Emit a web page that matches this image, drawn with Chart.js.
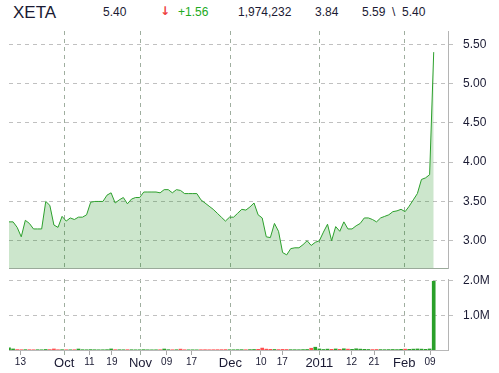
<!DOCTYPE html>
<html><head><meta charset="utf-8">
<script src="https://cdn.jsdelivr.net/npm/chart.js@4.4.0/dist/chart.umd.min.js"></script>
<style>
html,body{margin:0;padding:0;background:#fff;}
#wrap{position:relative;width:499px;height:373px;overflow:hidden;font-family:'Liberation Sans',Arial,sans-serif;color:#1a1a33;}
.h{position:absolute;white-space:pre;line-height:1;font-size:12px;}
canvas{position:absolute;left:0;}
</style></head><body>
<div id="wrap">
<span class="h" style="left:13px;top:4px;font-size:17px;">XETA</span>
<span class="h" style="left:103px;top:6px;">5.40</span>
<span class="h" style="left:160px;top:5px;color:#ee4040;font-family:'DejaVu Sans';font-weight:bold;font-size:12px;">↓</span>
<span class="h" style="left:178px;top:6px;color:#22aa22;">+1.56</span>
<span class="h" style="left:238px;top:6px;">1,974,232</span>
<span class="h" style="left:315px;top:6px;">3.84</span>
<span class="h" style="left:362px;top:6px;">5.59  \  5.40</span>
<canvas id="pc" width="499" height="260" style="top:20px;width:499px;height:260px"></canvas>
<canvas id="vc" width="499" height="103" style="top:270px;width:499px;height:103px"></canvas>
</div>
<script>
// Daily closing prices (trading-day order, Sep 13 2010 .. Feb 9 2011)
const price = [
 3.24,3.24,3.17,3.05,3.26,3.22,3.15,3.15,3.15,3.50,
 3.45,3.20,3.17,3.31,3.25,3.29,3.27,3.30,3.30,3.33,
 3.49,3.50,3.50,3.50,3.58,3.61,3.48,3.52,3.55,3.47,
 3.53,3.55,3.55,3.62,3.62,3.62,3.62,3.61,3.65,3.65,
 3.61,3.65,3.64,3.60,3.60,3.60,3.60,3.52,3.48,3.44,
 3.40,3.35,3.30,3.25,3.30,3.30,3.35,3.40,3.39,3.43,
 3.48,3.33,3.29,3.05,3.04,3.22,3.12,2.85,2.82,2.90,
 2.91,2.91,2.95,3.00,2.94,2.98,3.00,3.11,3.21,3.00,
 3.18,3.12,3.24,3.15,3.15,3.19,3.22,3.29,3.29,3.27,
 3.24,3.29,3.31,3.33,3.37,3.38,3.40,3.37,3.44,3.52,
 3.60,3.78,3.80,3.84,5.40
];
// Daily volume (shares)
const volume = [
 60000,30000,12000,8000,10000,9000,7000,8000,6000,15000,
 12000,30000,8000,9000,7000,6000,8000,28000,9000,7000,
 12000,8000,6000,7000,10000,30000,9000,8000,7000,9000,
 8000,6000,7000,10000,6000,5000,6000,8000,28000,9000,
 7000,8000,25000,7000,5000,6000,5000,8000,9000,7000,
 8000,9000,10000,12000,8000,7000,9000,10000,8000,12000,
 15000,20000,55000,25000,20000,15000,12000,18000,15000,10000,
 9000,8000,12000,15000,50000,80000,30000,15000,25000,20000,
 30000,20000,35000,25000,20000,35000,25000,20000,15000,12000,
 15000,12000,10000,12000,15000,12000,20000,25000,20000,25000,
 30000,25000,20000,30000,1974232
];
// X-axis ticks (position in trading days from Sep 13)
const tickPos    = [2.8, 13.5, 19.7, 25.2, 32.2, 38.6, 44.7, 54.2, 61.7, 66.9, 76.0, 83.9, 89.4, 96.8, 103.1];
const tickLabels = ['13','Oct','11','19','Nov','09','17','Dec','10','17','2011','12','21','Feb','09'];
const tickMajor  = [false,true,false,false,true,false,false,true,false,false,true,false,false,true,false];
const priceTicks = [3.0, 3.5, 4.0, 4.5, 5.0, 5.5];
const volumeTicks = [1000000, 2000000];
const volumeTickLabels = ['1.0M', '2.0M'];

Chart.defaults.font.family = "'Liberation Sans', Arial, sans-serif";
Chart.defaults.color = '#1a1a33';

const xMax = 107.5;
const monthGrid = '#9fae9f';
const hGrid = '#c0c0c0';
const upColor = '#2aa02a', downColor = '#ff5050';

function fitY(s) { s.width = 51; s.paddingTop = 0; s.paddingBottom = 0; }

new Chart(document.getElementById('pc'), {
  type: 'line',
  data: { datasets: [{
    data: price.map((v, i) => ({ x: i, y: v })),
    borderColor: '#2ca02c', borderWidth: 1,
    backgroundColor: 'rgba(0,128,0,0.2)', fill: 'start',
    pointRadius: 0, tension: 0
  }]},
  options: {
    responsive: false, devicePixelRatio: 1, animation: false,
    layout: { padding: { left: 9, top: 11, right: 0, bottom: 0 } },
    plugins: { legend: { display: false }, tooltip: { enabled: false } },
    scales: {
      x: {
        type: 'linear', min: 0, max: xMax, offset: false,
        afterBuildTicks: s => { s.ticks = tickPos.filter((p, i) => tickMajor[i]).map(v => ({ value: v })); },
        afterFit: s => { s.height = 12; s.paddingLeft = 0; s.paddingRight = 0; },
        ticks: { display: false },
        grid: { color: monthGrid, drawTicks: false, lineWidth: 1 },
        border: { color: '#9aaa9a', dash: [4, 4] }
      },
      y: {
        position: 'right', min: 2.653, max: 5.669,
        afterBuildTicks: s => { s.ticks = priceTicks.map(v => ({ value: v })); },
        afterFit: fitY,
        ticks: { padding: 10, font: { size: 12 }, color: '#1a1a33', callback: v => Number(v).toFixed(2) },
        grid: { color: hGrid, tickLength: 5, tickColor: hGrid, tickBorderDash: [4, 4] },
        border: { color: '#b4b4b4', dash: [4, 4] }
      }
    }
  }
});

const barColors = price.map((v, i) => (i === 0 || v >= price[i - 1]) ? upColor : downColor);

new Chart(document.getElementById('vc'), {
  type: 'bar',
  data: { datasets: [{
    data: volume.map((v, i) => ({ x: i, y: v })),
    backgroundColor: barColors, barThickness: 3, borderWidth: 0
  }]},
  options: {
    responsive: false, devicePixelRatio: 1, animation: false,
    layout: { padding: { left: 9, top: 9, right: 0, bottom: 0 } },
    plugins: { legend: { display: false }, tooltip: { enabled: false } },
    scales: {
      x: {
        type: 'linear', min: 0, max: xMax, offset: false,
        afterBuildTicks: s => { s.ticks = tickPos.map(v => ({ value: v })); },
        afterFit: s => { s.height = 23; s.paddingLeft = 0; s.paddingRight = 0; },
        ticks: {
          autoSkip: false, maxRotation: 0, minRotation: 0, padding: 1, color: '#1a1a33',
          callback: (v, i) => tickLabels[i],
          font: c => ({ size: tickMajor[c.index] ? 13 : 10 })
        },
        grid: {
          offset: false, tickLength: 5,
          color: c => tickMajor[c.index] ? monthGrid : 'rgba(0,0,0,0)',
          tickColor: c => tickMajor[c.index] ? monthGrid : '#a8a8a8',
          tickBorderDash: []
        },
        border: { color: '#b8b8b8', dash: c => (c.tick && tickMajor[c.index]) ? [4, 4] : [] }
      },
      y: {
        position: 'right', min: 0, max: 2040000,
        afterBuildTicks: s => { s.ticks = volumeTicks.map(v => ({ value: v })); },
        afterFit: fitY,
        ticks: { padding: 10, font: { size: 12 }, color: '#1a1a33', callback: (v, i) => volumeTickLabels[i] },
        grid: { color: hGrid, tickLength: 5, tickColor: hGrid, tickBorderDash: [4, 4] },
        border: { color: '#b4b4b4', dash: [4, 4] }
      }
    }
  }
});
</script>
</body></html>
